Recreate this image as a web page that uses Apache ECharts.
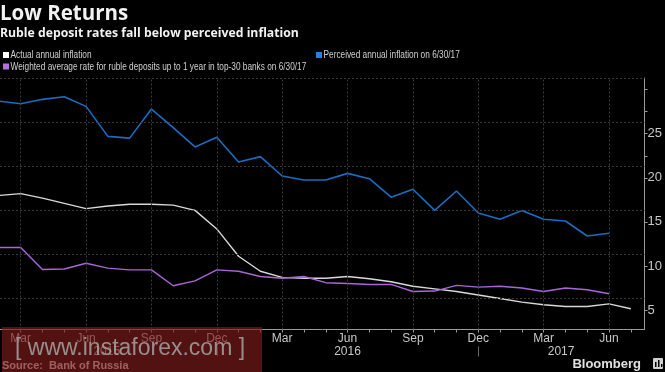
<!DOCTYPE html>
<html>
<head>
<meta charset="utf-8">
<script src="https://cdn.jsdelivr.net/npm/echarts@6/dist/echarts.min.js"></script>
<style>
html,body{margin:0;padding:0;background:#000;}
#chart{width:665px;height:372px;}
</style>
</head>
<body>
<div id="chart"></div>
<script>
// Months: index 0 = Feb 2015 ... index 29 = Jul 2017
const months = ['Feb','Mar','Apr','May','Jun','Jul','Aug','Sep','Oct','Nov','Dec',
  'Jan','Feb','Mar','Apr','May','Jun','Jul','Aug','Sep','Oct','Nov','Dec',
  'Jan','Feb','Mar','Apr','May','Jun','Jul'];
const years = ['2015','2016','2017'];

const actualInflation = [18.0,18.2,17.7,17.1,16.5,16.8,17.0,17.0,16.9,16.3,14.2,11.1,9.4,8.7,8.6,8.6,
  8.8,8.55,8.2,7.7,7.4,7.1,6.7,6.3,5.9,5.6,5.4,5.4,5.7,5.15];
const perceivedInflation = [28.7,28.4,28.9,29.2,28.1,24.7,24.5,27.8,25.7,23.5,24.6,21.8,22.4,20.2,19.75,19.75,
  20.5,19.9,17.8,18.7,16.3,18.5,16.0,15.3,16.3,15.3,15.1,13.4,13.7];
const depositRate = [12.1,12.1,9.6,9.65,10.3,9.75,9.55,9.55,7.75,8.3,9.55,9.4,8.8,8.6,8.8,8.1,
  8.0,7.9,7.9,7.1,7.15,7.8,7.6,7.7,7.5,7.1,7.5,7.3,6.85];

const yTickLabels = [5,10,15,20,25];

const names = ['Actual annual inflation',
  'Weighted average rate for ruble deposits up to 1 year in top-30 banks on 6/30/17',
  'Perceived annual inflation on 6/30/17'];
const colors = ['#d8d8d8','#a866d8','#1c6cc0'];
const legendColors = ['#ffffff','#b56ee6','#2a80d8'];

const quarterIdx = [1,4,7,10,13,16,19,22,25,28];
const monthIdx = months.map((m,i)=>i);
const yearPos = [4.95,16,25.8];
const yearSepIdx = [10,22];
const hGrid = [6.3,11.3,16.3,21.3,26.3];

const pairs = arr => arr.map((v,i)=>[i,v]);

const chart = echarts.init(document.getElementById('chart'));
const legendFont = "11.5px 'Liberation Sans',Arial,sans-serif";
const legendPos = [[3,55],[3,66.5],[316,55]];
const legendGraphics = [];
names.forEach((n,i)=>{
  const [lx,ly] = legendPos[i];
  legendGraphics.push({type:'rect', shape:{x:lx, y:ly-3, width:6, height:6}, style:{fill:legendColors[i]}});
  legendGraphics.push({type:'text', x:lx+7.5, y:ly, scaleX:0.72,
    style:{x:0, y:0, text:n, fill:'#d0d0d0', font:legendFont, verticalAlign:'middle'}});
});

chart.setOption({
  backgroundColor:'#000',
  animation:false,
  grid:{left:0, right:19.3, top:78, bottom:42.5, containLabel:false},
  xAxis:[{
    type:'value', min:0.05, max:29.63,
    axisLine:{show:true, lineStyle:{color:'#9a9a9a', width:1}},
    axisTick:{show:true, customValues:monthIdx, length:3, lineStyle:{color:'#9a9a9a'}},
    axisLabel:{customValues:quarterIdx, color:'#c8c8c8', fontSize:12, margin:3,
      fontFamily:"'Liberation Sans',Arial,sans-serif",
      formatter:v=>months[Math.round(v)]},
    splitLine:{show:false}
  },{
    type:'value', min:0.05, max:29.63, position:'bottom', offset:17,
    axisLine:{show:false},
    axisTick:{show:true, customValues:yearSepIdx, length:10, lineStyle:{color:'#666'}},
    axisLabel:{customValues:yearPos, color:'#c8c8c8', fontSize:12, margin:-1,
      fontFamily:"'Liberation Sans',Arial,sans-serif",
      formatter:v=>years[yearPos.indexOf(v)]},
    splitLine:{show:false}
  }],
  yAxis:{
    type:'value', position:'right', min:2.79, max:31.32,
    axisLine:{show:true, lineStyle:{color:'#9a9a9a', width:1}},
    axisTick:{show:true, customValues:[5,10,15,20,22.5,25,27.5,30], length:3, lineStyle:{color:'#9a9a9a'}},
    axisLabel:{customValues:yTickLabels, color:'#c8c8c8', fontSize:13, margin:3,
      fontFamily:"'Liberation Sans',Arial,sans-serif"},
    splitLine:{show:false}
  },
  series:[
    {type:'line', name:'grid', data:[], silent:true, z:1,
      markLine:{silent:true, symbol:'none', label:{show:false},
        lineStyle:{color:'#3a3a3a', type:[2,2], width:1},
        data:hGrid.map(v=>({yAxis:v})).concat(quarterIdx.map(v=>({xAxis:v}))).concat([{yAxis:31.32}])}},
    {type:'line', name:names[2], data:pairs(perceivedInflation), showSymbol:false, symbol:'none',
      lineStyle:{color:colors[2], width:1.6}},
    {type:'line', name:names[0], data:pairs(actualInflation), showSymbol:false, symbol:'none',
      lineStyle:{color:colors[0], width:1.4}},
    {type:'line', name:names[1], data:pairs(depositRate), showSymbol:false, symbol:'none',
      lineStyle:{color:colors[1], width:1.4}}
  ],
  graphic:[
    {type:'text', left:0, top:4, style:{text:'Low Returns', fill:'#f2f2f2',
      font:"bold 20.5px 'Open Sans','Liberation Sans',sans-serif"}},
    {type:'text', x:0, y:33, scaleX:0.94, style:{x:0, y:0, text:'Ruble deposit rates fall below perceived inflation', fill:'#f2f2f2',
      font:"bold 13px 'Open Sans','Liberation Sans',sans-serif", verticalAlign:'middle'}},
    {type:'text', left:2, top:360, z:50, style:{text:'Source:  Bank of Russia', fill:'#e0e0e0',
      font:"bold 11px 'Liberation Sans',Arial,sans-serif"}},
    {type:'rect', z:100, shape:{x:2, y:327, width:260, height:45},
      style:{fill:'rgba(125,28,28,0.66)'}},
    {type:'text', z:101, left:15, top:337, style:{text:'[ www.instaforex.com ]', fill:'rgba(165,165,165,0.85)',
      font:"23px 'Liberation Sans',Arial,sans-serif"}},
    {type:'text', right:24, top:358, style:{text:'Bloomberg', fill:'#e0e0e0',
      font:"bold 13px 'Liberation Sans',Arial,sans-serif"}},
    {type:'rect', shape:{x:653, y:358, width:10, height:11, r:1}, style:{fill:'#d0d0d0'}},
    {type:'rect', shape:{x:655, y:362, width:1.5, height:5}, style:{fill:'#000'}},
    {type:'rect', shape:{x:658, y:360, width:1.5, height:7}, style:{fill:'#000'}},
    {type:'rect', shape:{x:661, y:364, width:1.5, height:3}, style:{fill:'#000'}}
  ].concat(legendGraphics)
});
</script>
</body>
</html>
